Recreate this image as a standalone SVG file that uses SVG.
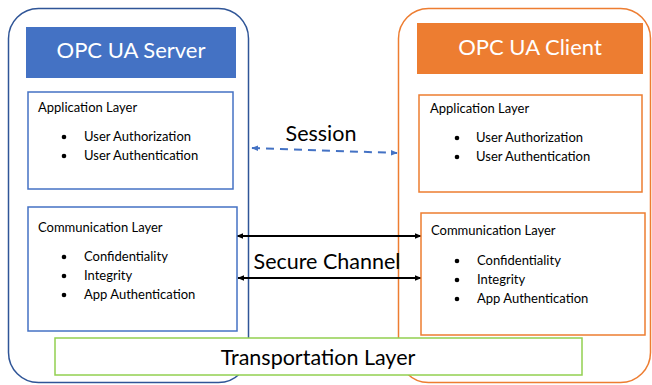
<svg xmlns="http://www.w3.org/2000/svg" width="652" height="385" viewBox="0 0 652 385">
<style>
text{font-family:Lato,"Liberation Sans",sans-serif;fill:#000}
.title{fill:#fff;font-size:22px;text-anchor:middle}
.hd{font-size:13px}
.it{font-size:13px}
.big{font-size:21.5px}
.sbox{fill:#fff;stroke:#4472C4;stroke-width:1.5}
.cbox{fill:#fff;stroke:#ED7D31;stroke-width:1.5}
</style>
<defs>
<marker id="ab" viewBox="0 0 10 10" refX="9" refY="5" markerWidth="7" markerHeight="7" orient="auto-start-reverse" markerUnits="userSpaceOnUse"><path d="M0,1 L10,5 L0,9 z" fill="#000"/></marker>
<marker id="ad" viewBox="0 0 10 10" refX="9" refY="5" markerWidth="7" markerHeight="7" orient="auto-start-reverse" markerUnits="userSpaceOnUse"><path d="M0,1 L10,5 L0,9 z" fill="#4472C4"/></marker>
</defs>
<rect width="652" height="385" fill="#fff"/>
<g id="server">
<rect x="8.5" y="8.5" width="240" height="374" rx="30" fill="none" stroke="#2F5597" stroke-width="1.5"/>
<rect x="26" y="27" width="210" height="51" fill="#4472C4"/>
<text class="title" x="131" y="58">OPC UA Server</text>
</g>
<g id="client">
<rect x="398.5" y="8.5" width="252" height="374" rx="30" fill="none" stroke="#ED7D31" stroke-width="1.5"/>
<rect x="417" y="23" width="226" height="51" fill="#ED7D31"/>
<text class="title" x="530" y="55">OPC UA Client</text>
</g>
<g id="connectors">
<line x1="252" y1="148" x2="397" y2="153" stroke="#4472C4" stroke-width="2" stroke-dasharray="8,6" marker-start="url(#ad)" marker-end="url(#ad)"/>
<line x1="237" y1="236" x2="421" y2="236" stroke="#000" stroke-width="2" marker-start="url(#ab)" marker-end="url(#ab)"/>
<line x1="238" y1="278" x2="421" y2="278" stroke="#000" stroke-width="2" marker-start="url(#ab)" marker-end="url(#ab)"/>
</g>
<g id="server-app">
<rect class="sbox" x="28" y="92" width="205" height="97"/>
<text class="hd" x="38" y="112">Application Layer</text>
<circle cx="64" cy="137" r="2.3"/>
<circle cx="64" cy="156" r="2.3"/>
<text class="it" x="84" y="141">User Authorization</text>
<text class="it" x="84" y="160">User Authentication</text>
</g>
<g id="server-comm">
<rect class="sbox" x="28" y="207" width="209" height="124"/>
<text class="hd" x="38" y="232">Communication Layer</text>
<circle cx="64" cy="257" r="2.3"/>
<circle cx="64" cy="276" r="2.3"/>
<circle cx="64" cy="295" r="2.3"/>
<text class="it" x="84" y="261">Confidentiality</text>
<text class="it" x="84" y="280">Integrity</text>
<text class="it" x="84" y="299">App Authentication</text>
</g>
<g id="client-app">
<rect class="cbox" x="419" y="95" width="223" height="97"/>
<text class="hd" x="430" y="113">Application Layer</text>
<circle cx="457" cy="138" r="2.3"/>
<circle cx="457" cy="157" r="2.3"/>
<text class="it" x="476" y="142">User Authorization</text>
<text class="it" x="476" y="161">User Authentication</text>
</g>
<g id="client-comm">
<rect class="cbox" x="421" y="213" width="224" height="122"/>
<text class="hd" x="431" y="235">Communication Layer</text>
<circle cx="457" cy="261" r="2.3"/>
<circle cx="457" cy="280" r="2.3"/>
<circle cx="457" cy="299" r="2.3"/>
<text class="it" x="477" y="265">Confidentiality</text>
<text class="it" x="477" y="284">Integrity</text>
<text class="it" x="477" y="303">App Authentication</text>
</g>
<g id="labels">
<text class="big" x="321" y="141" text-anchor="middle">Session</text>
<text class="big" x="327" y="269" text-anchor="middle">Secure Channel</text>
</g>
<g id="transport">
<rect x="55" y="338" width="527" height="37" fill="#fff" stroke="#92D050" stroke-width="1.5"/>
<text class="big" x="318" y="365" text-anchor="middle">Transportation Layer</text>
</g>
</svg>
